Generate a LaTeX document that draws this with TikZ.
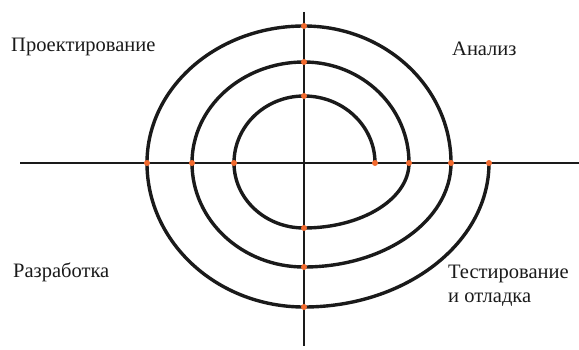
\documentclass[tikz,border=0pt]{standalone}
\usepackage{fontspec}
\setmainfont{Liberation Serif}
\definecolor{dotorange}{HTML}{F26A2E}
\definecolor{ink}{HTML}{1A1A1A}
\tikzset{
  axisline/.style={draw=ink, line width=2.2pt},
  spiralline/.style={draw=ink, line width=3.4pt},
  pointdot/.style={circle, fill=dotorange, inner sep=0pt, minimum size=6pt},
  phase/.style={font=\fontsize{20.5}{24}\selectfont, text=ink, inner sep=0pt, anchor=base west}
}
\begin{document}
\begin{tikzpicture}[x=1pt,y=1pt]
\useasboundingbox (0,0) rectangle (579,349);
% axes end points
\coordinate (hl) at (20,186);
\coordinate (hr) at (579,186);
\coordinate (vt) at (304,337);
\coordinate (vb) at (304,3);
\draw[axisline] (hl) -- (hr);
\draw[axisline] (vt) -- (vb);
% spiral
\coordinate (s0) at (375,186);
\draw[spiralline, line cap=round]
  (s0) arc[start angle=0, end angle=90, x radius=71, y radius=67]
       arc[start angle=90, end angle=180, x radius=70, y radius=67]
       arc[start angle=180, end angle=270, x radius=70, y radius=65]
       arc[start angle=270, end angle=360, x radius=105, y radius=65]
       arc[start angle=0, end angle=90, x radius=105, y radius=101]
       arc[start angle=90, end angle=180, x radius=112, y radius=101]
       arc[start angle=180, end angle=270, x radius=112, y radius=104]
       arc[start angle=270, end angle=360, x radius=147, y radius=104]
       arc[start angle=0, end angle=90, x radius=147, y radius=137]
       arc[start angle=90, end angle=180, x radius=157, y radius=137]
       arc[start angle=180, end angle=270, x radius=157, y radius=144]
       arc[start angle=270, end angle=360, x radius=185, y radius=144];
% dots
\node[pointdot] (d1) at (375,186) {};
\node[pointdot] (d2) at (304,253) {};
\node[pointdot] (d3) at (234,186) {};
\node[pointdot] (d4) at (304,121) {};
\node[pointdot] (d5) at (409,186) {};
\node[pointdot] (d6) at (304,287) {};
\node[pointdot] (d7) at (192,186) {};
\node[pointdot] (d8) at (304,82) {};
\node[pointdot] (d9) at (451,186) {};
\node[pointdot] (d10) at (304,323) {};
\node[pointdot] (d11) at (147,186) {};
\node[pointdot] (d12) at (304,42) {};
\node[pointdot] (d13) at (489,186) {};
% labels
\node[phase] (design) at (11,297) {Проектирование};
\node[phase] (analysis) at (452,293) {Анализ};
\node[phase] (dev) at (13,72) {Разработка};
\node[phase] (test) at (448,71) {Тестирование};
\node[phase] (debug) at (448,47) {и отладка};
\end{tikzpicture}
\end{document}
